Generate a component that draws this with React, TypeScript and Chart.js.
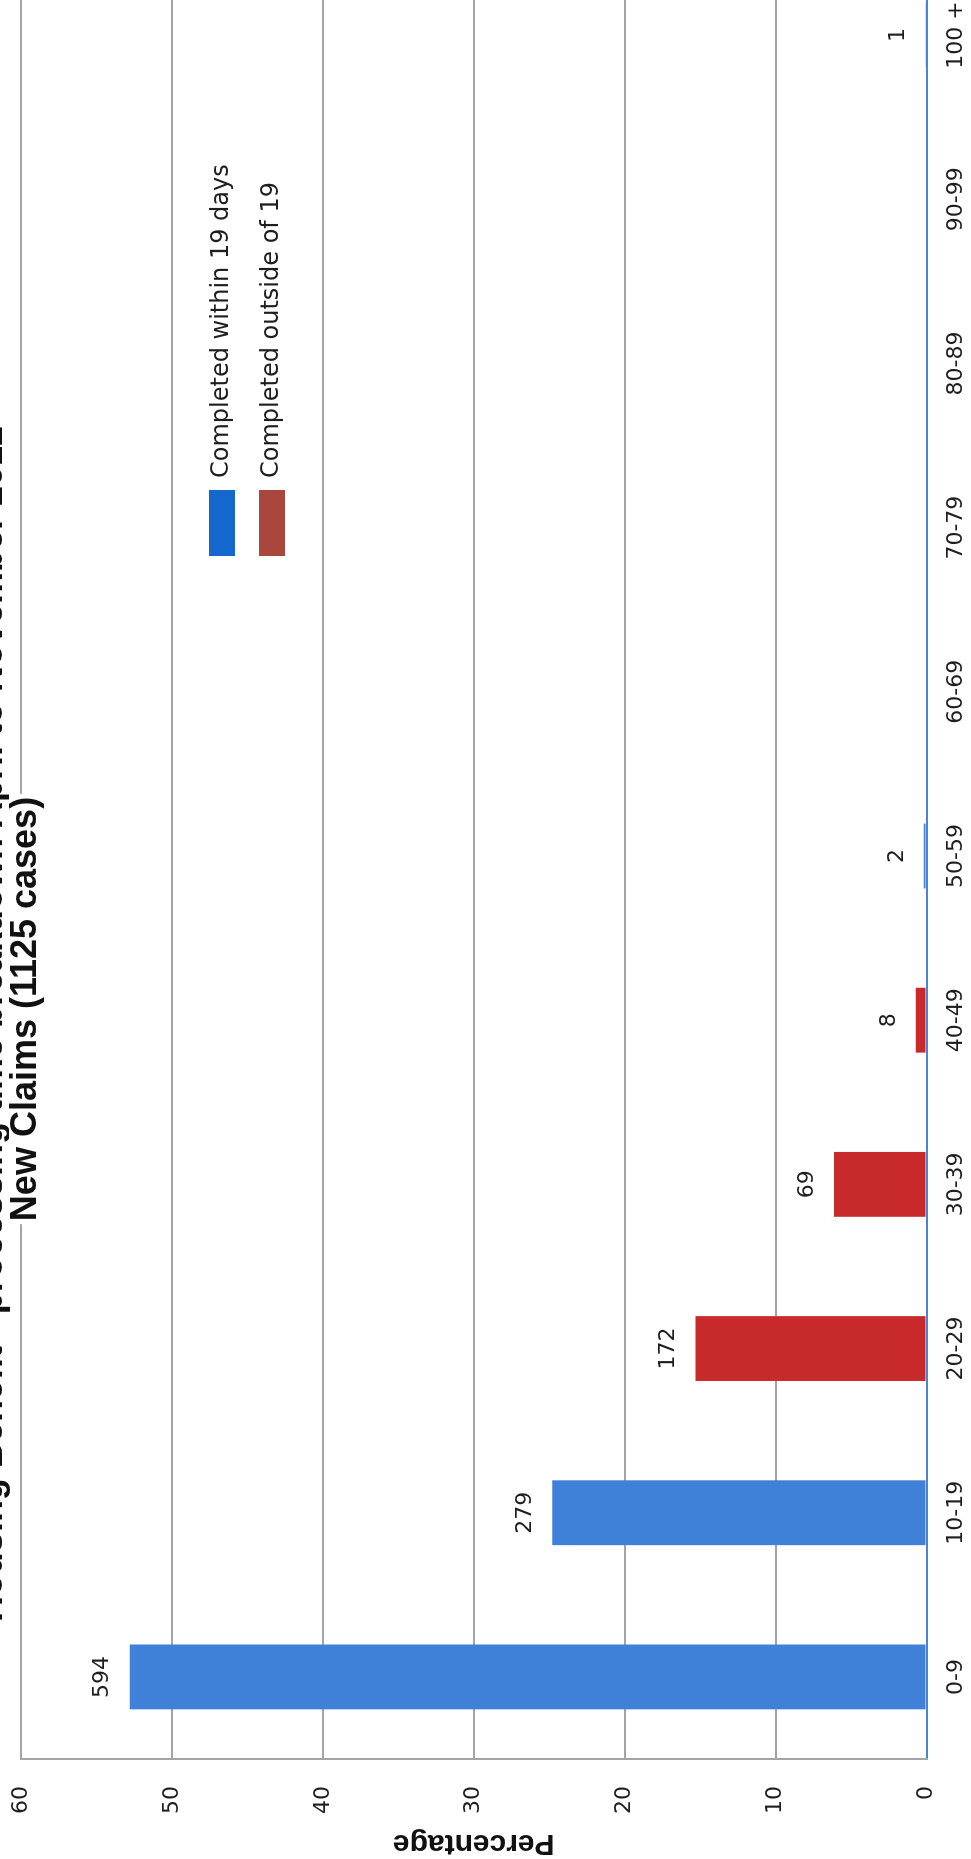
import React, { useEffect, useRef } from 'react';
import { Chart, registerables } from 'chart.js';

Chart.register(...registerables);

// ---------- data ----------
const CATEGORIES = ['0-9', '10-19', '20-29', '30-39', '40-49', '50-59', '60-69', '70-79', '80-89', '90-99', '100 +'];
const WITHIN_19 = [52.8, 24.8, null, null, null, 0.18, null, null, null, null, 0.09];
const OUTSIDE_19 = [null, null, 15.3, 6.13, 0.71, null, null, null, null, null, null];
const CASE_COUNTS = [594, 279, 172, 69, 8, 2, null, null, null, null, 1];
const VALUE_TICKS = [0, 10, 20, 30, 40, 50, 60];
const SERIES_NAMES = ['Completed within 19 days', 'Completed outside of 19'];
const TITLE = 'Housing Benefit - processing time breakdown April to November 2012';
const SUBTITLE = 'New Claims (1125 cases)';
const AXIS_TITLE = 'Percentage';

// ---------- styles ----------
const BAR_COLORS = ['#3f80d9', '#c8292b'];
const LEGEND_COLORS = ['#1467cc', '#a9463e'];
const GRID = '#a4a4a4';
const AXIS_BLUE = '#4f81d4';
const TEXT = '#1e1e1e';
const SANS = "'DejaVu Sans', sans-serif";
const HEAD = "'Liberation Sans', Arial, sans-serif";
const HEAD_NARROW = "'Liberation Sans Narrow', 'Arial Narrow', 'Liberation Sans', sans-serif";

// canvas is drawn upright, then turned a quarter-turn counter-clockwise
const CW = 1930;
const CH = 1011;

const legendPlacer = {
  id: 'legendPlacer',
  afterLayout(chart: any) {
    const lg = chart.legend;
    if (!lg) return;
    lg.left = 1279;
    lg.top = 225;
    lg.right = lg.left + 640;
    lg.bottom = lg.top + 160;
  },
};

const countLabels = {
  id: 'countLabels',
  afterDatasetsDraw(chart: any) {
    const ctx = chart.ctx;
    ctx.save();
    ctx.font = `22px ${SANS}`;
    ctx.fillStyle = TEXT;
    ctx.textAlign = 'center';
    ctx.textBaseline = 'middle';
    CASE_COUNTS.forEach((n, i) => {
      if (n == null) return;
      let top = Infinity;
      let x = 0;
      chart.data.datasets.forEach((ds: any, di: number) => {
        const v = ds.data[i];
        if (v == null) return;
        const el = chart.getDatasetMeta(di).data[i];
        if (el && el.y < top) {
          top = el.y;
          x = el.x;
        }
      });
      if (top !== Infinity) ctx.fillText(String(n), x, top - 27);
    });
    ctx.restore();
  },
};

const headings = {
  id: 'headings',
  afterDraw(chart: any) {
    const ctx = chart.ctx;
    ctx.save();
    ctx.fillStyle = '#111';
    ctx.textAlign = 'center';
    ctx.textBaseline = 'alphabetic';
    ctx.font = `bold 36px ${HEAD_NARROW}`;
    ctx.fillText(TITLE, 835, 42);
    ctx.font = `bold 36px ${HEAD_NARROW}`;
    const w = ctx.measureText(SUBTITLE).width;
    ctx.fillStyle = '#ffffff';
    ctx.fillRect(850 - w / 2 - 3, 76 - 27, w + 6, 36);
    ctx.fillStyle = '#111';
    ctx.fillText(SUBTITLE, 850, 76);
    ctx.restore();
  },
};

export default function App() {
  const ref = useRef<HTMLCanvasElement | null>(null);

  useEffect(() => {
    if (!ref.current) return;
    const chart = new Chart(ref.current, {
      type: 'bar',
      data: {
        labels: CATEGORIES,
        datasets: [
          {
            label: SERIES_NAMES[0],
            data: WITHIN_19,
            backgroundColor: BAR_COLORS[0],
            borderWidth: 0,
            barPercentage: 0.395,
            categoryPercentage: 1,
          },
          {
            label: SERIES_NAMES[1],
            data: OUTSIDE_19,
            backgroundColor: BAR_COLORS[1],
            borderWidth: 0,
            barPercentage: 0.395,
            categoryPercentage: 1,
          },
        ],
      },
      options: {
        responsive: false,
        animation: false,
        devicePixelRatio: 1,
        events: [],
        layout: { padding: { left: 0, right: 24, top: 61, bottom: 0 } },
        plugins: {
          tooltip: { enabled: false },
          title: { display: false },
          legend: {
            display: true,
            position: 'chartArea',
            align: 'start',
            labels: {
              boxWidth: 66,
              boxHeight: 26,
              padding: 24,
              color: TEXT,
              font: { family: SANS, size: 24 },
              generateLabels: (c: any) =>
                c.data.datasets.map((ds: any, i: number) => ({
                  text: ds.label,
                  fillStyle: LEGEND_COLORS[i],
                  strokeStyle: LEGEND_COLORS[i],
                  lineWidth: 0,
                  hidden: false,
                  datasetIndex: i,
                  fontColor: TEXT,
                })),
            },
          },
        },
        scales: {
          x: {
            stacked: true,
            grid: { display: false, drawTicks: false },
            border: { display: true, color: AXIS_BLUE, width: 2 },
            ticks: {
              color: TEXT,
              font: { family: SANS, size: 22 },
              padding: 17,
              maxRotation: 0,
              autoSkip: false,
            },
            afterFit: (s: any) => {
              s.height = 44.5;
            },
          },
          y: {
            stacked: true,
            min: 0,
            max: 60,
            afterBuildTicks: (s: any) => {
              s.ticks = VALUE_TICKS.map((v) => ({ value: v }));
            },
            grid: {
              color: (c: any) => (c.tick && c.tick.value === 0 ? 'rgba(0,0,0,0)' : GRID),
              lineWidth: 2,
              drawTicks: false,
            },
            border: { display: true, color: GRID, width: 2 },
            ticks: {
              color: TEXT,
              font: { family: SANS, size: 22 },
              padding: 27,
            },
            title: {
              display: true,
              text: AXIS_TITLE,
              color: '#111',
              font: { family: HEAD, size: 30, weight: 'bold', lineHeight: 1 },
              padding: { top: 1, bottom: 0 },
            },
            afterFit: (s: any) => {
              s.width = 100;
            },
          },
        },
      } as any,
      plugins: [legendPlacer, countLabels, headings],
    });
    return () => chart.destroy();
  }, []);

  return (
    <div
      style={{
        position: 'absolute',
        left: 0,
        top: 0,
        width: 971,
        height: 1859,
        overflow: 'hidden',
        background: '#ffffff',
      }}
    >
      <div
        style={{
          position: 'absolute',
          left: 0,
          top: 0,
          width: CW,
          height: CH,
          transformOrigin: '0 0',
          transform: 'translate(-40px, 1859px) rotate(-90deg)',
        }}
      >
        <canvas ref={ref} width={CW} height={CH} style={{ display: 'block', width: CW, height: CH }} />
      </div>
    </div>
  );
}
